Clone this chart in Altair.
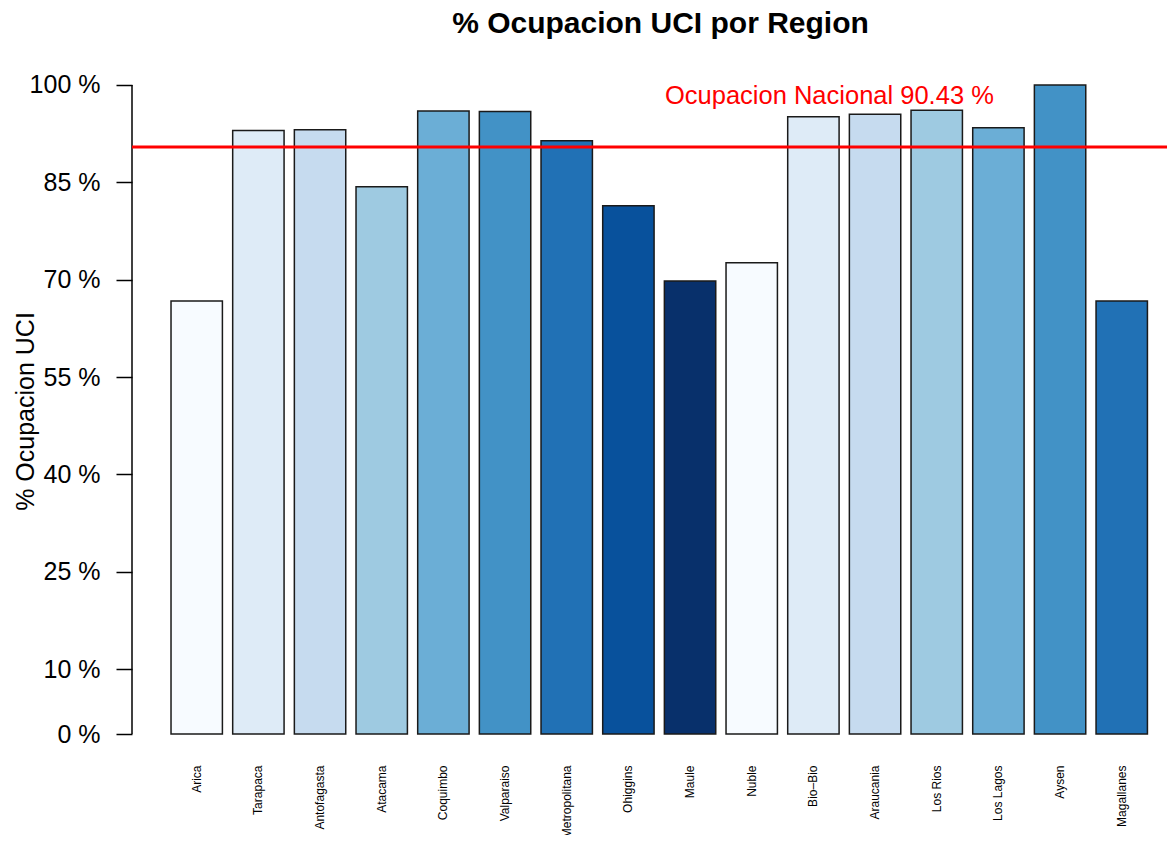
import altair as alt
import pandas as pd

regions = ["Arica", "Tarapaca", "Antofagasta", "Atacama", "Coquimbo", "Valparaiso",
           "Metropolitana", "Ohiggins", "Maule", "Nuble", "Bio\u2013Bio", "Araucania",
           "Los Rios", "Los Lagos", "Aysen", "Magallanes"]
ocupacion = [66.7, 93.0, 93.1, 84.3, 96.0, 95.9, 91.4, 81.4, 69.8, 72.6, 95.1, 95.5,
             96.1, 93.4, 100.0, 66.7]
colores = ["#F7FBFF", "#DEEBF7", "#C6DBEF", "#9ECAE1", "#6BAED6", "#4292C6", "#2171B5",
           "#08519C", "#08306B", "#F7FBFF", "#DEEBF7", "#C6DBEF", "#9ECAE1", "#6BAED6",
           "#4292C6", "#2171B5"]
y_ticks = [0, 10, 25, 40, 55, 70, 85, 100]
nacional = 90.43
texto_nacional = "Ocupacion Nacional 90.43 %"

df = pd.DataFrame({"region": regions, "ocupacion": ocupacion, "color": colores})
one = pd.DataFrame({"k": [0]})

FONT = "Liberation Sans"

x_scale = alt.Scale(domain=regions, paddingInner=0.1667, paddingOuter=0.475, align=0.666)
y_scale = alt.Scale(domain=[-4, 104], nice=False, zero=False)

bars = alt.Chart(df).mark_bar(stroke="#1a1a1a", strokeWidth=1.5).encode(
    x=alt.X("region:N", scale=x_scale, sort=regions,
            axis=alt.Axis(title=None, labelAngle=-90, labelAlign="right",
                          labelBaseline="middle", labelPadding=5, ticks=False,
                          domain=False, labelFontSize=12, labelColor="black",
                          labelFont=FONT)),
    y=alt.Y("ocupacion:Q", scale=y_scale,
            axis=alt.Axis(values=y_ticks, labelExpr="datum.value + ' %'",
                          title="% Ocupacion UCI", titleFontSize=25,
                          titleFontWeight="normal", titleColor="black",
                          titleFont=FONT, titleX=-99, titleY=352,
                          titleBaseline="alphabetic", titleAlign="center",
                          labelFontSize=25, labelColor="black", labelFont=FONT,
                          tickSize=16, tickWidth=1.5, tickColor="black",
                          labelPadding=16, domain=False, grid=False)),
    y2=alt.datum(0),
    color=alt.Color("color:N", scale=None),
)

axis_line = alt.Chart(one).mark_rule(color="black", strokeWidth=1.5).encode(
    x=alt.value(0),
    y=alt.Y(datum=0, scale=y_scale),
    y2=alt.Y2(datum=100),
)

red_line = alt.Chart(one).mark_rule(color="#FF0000", strokeWidth=3).encode(
    x=alt.value(0),
    x2=alt.value(1035),
    y=alt.Y(datum=nacional, scale=y_scale),
)

red_text = alt.Chart(one).mark_text(color="#FF0000", fontSize=25.5, font=FONT,
                                    align="center", baseline="middle", dx=16).encode(
    x=alt.X(datum="Bio\u2013Bio", scale=x_scale),
    y=alt.Y(datum=98.3, scale=y_scale),
    text=alt.value(texto_nacional),
)

chart = alt.layer(bars, axis_line, red_line, red_text).properties(
    width=1035,
    height=701,
    background="white",
    autosize=alt.AutoSizeParams(type="none"),
    padding={"left": 124, "top": 51, "right": 0, "bottom": 75},
    title=alt.TitleParams("% Ocupacion UCI por Region", fontSize=30, fontWeight="bold",
                          font=FONT, color="black", anchor="middle", dx=11,
                          baseline="alphabetic", offset=-4),
).configure_view(stroke=None)

chart.save("out.html", embed_options={"renderer": "svg", "actions": False})
